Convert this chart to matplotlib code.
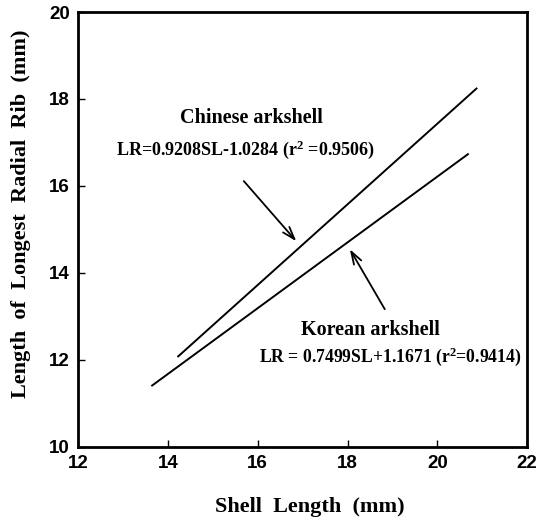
import matplotlib
matplotlib.use("Agg")
import matplotlib.pyplot as plt

plt.rcParams["font.family"] = ["Liberation Sans"]
plt.rcParams["font.weight"] = "bold"
plt.rcParams["mathtext.fontset"] = "custom"
plt.rcParams["mathtext.rm"] = "Liberation Serif:bold"
plt.rcParams["mathtext.bf"] = "Liberation Serif:bold"
plt.rcParams["mathtext.it"] = "Liberation Serif:bold"

# Regression line endpoints
chinese_x = [14.23, 20.87]
chinese_y = [12.08, 18.24]
korean_x = [13.65, 20.68]
korean_y = [11.41, 16.73]

x_ticks = [12, 14, 16, 18, 20, 22]
y_ticks = [10, 12, 14, 16, 18, 20]

serif = "Liberation Serif"

fig = plt.figure(figsize=(5.38, 5.22), dpi=100)
ax = fig.add_axes([0.145, 0.144, 0.835, 0.833])

ax.plot(chinese_x, chinese_y, color="black", lw=1.4)
ax.plot(korean_x, korean_y, color="black", lw=1.4)

ax.set_xlim(12, 22)
ax.set_ylim(10, 20)
ax.set_xticks(x_ticks)
ax.set_yticks(y_ticks)
ax.tick_params(direction="in", length=5, width=1, top=False, right=False, pad=6, labelsize=13.5)
for sp in ax.spines.values():
    sp.set_linewidth(2)

ax.set_xlabel("Shell  Length  (mm)", family=serif, fontweight="bold", fontsize=16)
ax.xaxis.set_label_coords(0.517, -0.115)
ax.set_ylabel("Length  of  Longest  Radial  Rib  (mm)", family=serif, fontweight="bold", fontsize=16)
ax.yaxis.set_label_coords(-0.105, 0.535)

ax.text(15.87, 17.56, "Chinese arkshell", family=serif, fontweight="bold", fontsize=14.5, ha="center", va="center")
ax.text(15.72, 16.83, r"LR=0.9208SL-1.0284 (r$^{2}$ =0.9506)", family=serif, fontweight="bold", fontsize=13, ha="center", va="center")
ax.text(18.5, 12.69, "Korean arkshell", family=serif, fontweight="bold", fontsize=14.5, ha="center", va="center")
ax.text(18.95, 12.07, r"LR = 0.7499SL+1.1671 (r$^{2}$=0.9414)", family=serif, fontweight="bold", fontsize=12.7, ha="center", va="center")

arrow = dict(arrowstyle="->,head_length=0.9,head_width=0.3", color="black", lw=1.3)
ax.annotate("", xy=(16.9, 14.68), xytext=(15.65, 16.16), arrowprops=arrow)
ax.annotate("", xy=(18.02, 14.6), xytext=(18.86, 13.11), arrowprops=arrow)

fig.savefig("out.png", dpi=100)
